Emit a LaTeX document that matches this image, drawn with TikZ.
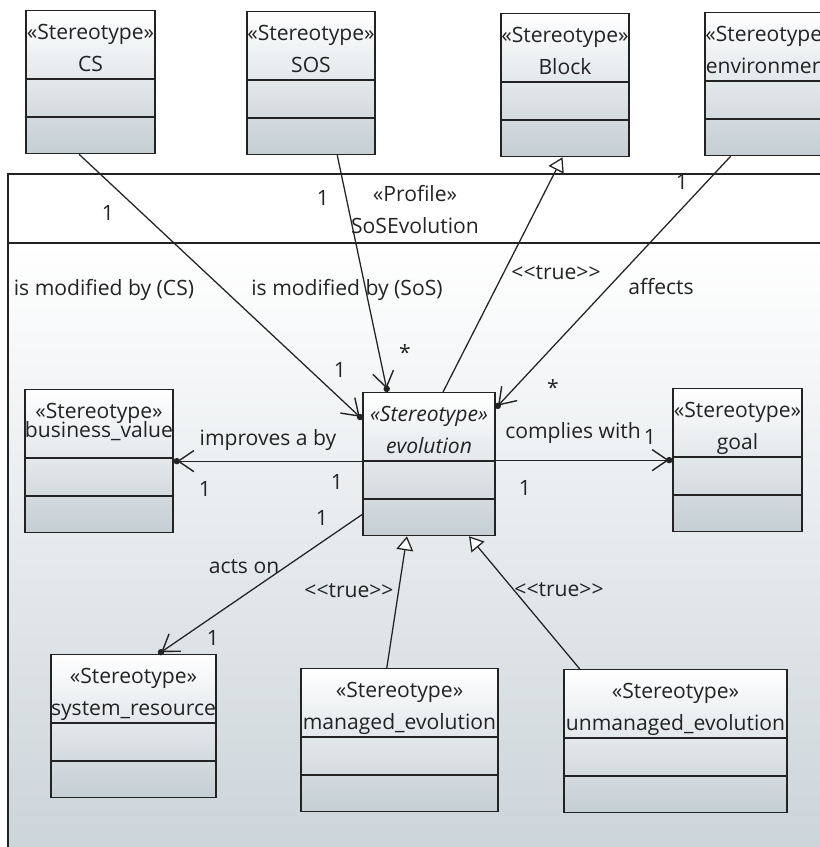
\documentclass[tikz,border=0pt]{standalone}
\usepackage{fontspec}
\setmainfont{Open Sans}
\usetikzlibrary{arrows.meta}
\definecolor{boxgray}{RGB}{196,206,212}
\definecolor{framegray}{RGB}{203,212,217}
\definecolor{ink}{RGB}{35,35,35}
\newcommand\pxl{0.025cm}
% stereotype box: name, centre x, top y, width, title
\newcommand\stbox[5]{%
   \node[stbox, minimum width=#4*\pxl, anchor=north] (#1) at (#2, #3) {};
   \node[sttitle] (#1-t) at ([yshift=-14*\pxl]#1.north) {#5};
   \foreach \s in {69, 107} {
      \draw[boxline] ([yshift=-\s*\pxl]#1.north west) -- ([yshift=-\s*\pxl]#1.north east);
   }
}
\tikzset{
   boxline/.style={draw=ink, line width=0.9pt},
   stbox/.style={boxline, shading=axis, top color=white, bottom color=boxgray,
      minimum height=143*\pxl, inner sep=0pt},
   sttitle/.style={anchor=north, align=center, inner sep=0pt, text=ink},
   lbl/.style={text=ink, inner sep=1pt},
   assoc/.style={draw=ink, line width=0.9pt,
      -{Straight Barb[length=11pt, width=15pt, line width=1pt, sep=-2pt] Circle[length=4.5pt]}},
   gen/.style={draw=ink, line width=0.9pt,
      -{Triangle[length=10pt, width=12pt, fill=white]}},
}
\begin{document}
\begin{tikzpicture}[x=0.025cm, y=-0.025cm, font=\fontsize{15}{22.8}\selectfont]
   \useasboundingbox (0, 0) rectangle (820, 847);
   \clip (0, 0) rectangle (820, 847);
   \fill[white] (0, 0) rectangle (820, 847);
   % profile frame
   \fill[white] (8, 174) rectangle (840, 243);
   \shade[top color=white, bottom color=framegray] (8, 243) rectangle (840, 860);
   \draw[boxline] (8, 860) -- (8, 174) -- (840, 174);
   \draw[boxline] (8, 243) -- (840, 243);
   \node[lbl, align=center] (prof) at (415, 210) {«Profile»\\SoSEvolution};

   \stbox{cs}{90.5}{10}{129}{«Stereotype»\\CS}
   \stbox{sos}{311}{11}{128}{«Stereotype»\\SOS}
   \stbox{blk}{565}{13}{128}{«Stereotype»\\Block}
   \stbox{env}{769}{12}{128}{«Stereotype»\\environment}
   \stbox{evo}{429}{392}{132}{\itshape «Stereotype»\\\itshape evolution}
   \stbox{bv}{99}{389}{148}{«Stereotype»\\[-9pt]business\_value}
   \stbox{goal}{737.5}{388}{129}{«Stereotype»\\goal}
   \stbox{sr}{133.5}{654}{165}{«Stereotype»\\system\_resource}
   \stbox{mev}{399.5}{668}{197}{«Stereotype»\\managed\_evolution}
   \stbox{umev}{675.5}{669}{223}{«Stereotype»\\unmanaged\_evolution}

   \draw[assoc] (cs.261.6) -- (evo.146.3);
   \draw[assoc] (sos.290) -- (evo.120.8);
   \draw[gen] (evo.79) -- (blk.268);
   \draw[assoc] (env.242) -- (evo.40.8);
   \draw[assoc] (evo.west |- bv.east) -- (bv.east);
   \draw[assoc] (evo.east |- goal.west) -- (goal.west);
   \draw[assoc] (evo.217.7) -- (sr.71.8);
   \draw[gen] (mev.100.7) -- (evo.253.7);
   \draw[gen] (umev.143.7) -- (evo.299.7);

   \node[lbl] (cs-m1) at (108, 213) {1};
   \node[lbl] (cs-m2) at (340, 370) {1};
   \node[lbl] (cs-n) at (104, 290) {is modified by (CS)};
   \node[lbl] (sos-m1) at (323, 198) {1};
   \node[lbl] (sos-m2) at (405, 352) {*};
   \node[lbl] (sos-n) at (347, 290) {is modified by (SoS)};
   \node[lbl] (blk-n) at (556, 273) {<{}<true>{}>};
   \node[lbl] (env-m1) at (682, 182) {1};
   \node[lbl] (env-m2) at (553, 387) {*};
   \node[lbl] (env-n) at (661, 287) {affects};
   \node[lbl] (bv-n) at (268, 440) {improves a by};
   \node[lbl] (bv-m1) at (205, 489) {1};
   \node[lbl] (bv-m2) at (337, 482) {1};
   \node[lbl] (goal-n) at (573, 433) {complies with};
   \node[lbl] (goal-m1) at (650, 437) {1};
   \node[lbl] (goal-m2) at (525, 488) {1};
   \node[lbl] (sr-n) at (244, 567) {acts on};
   \node[lbl] (sr-m1) at (322, 518) {1};
   \node[lbl] (sr-m2) at (213, 638) {1};
   \node[lbl] (mev-n) at (349, 591) {<{}<true>{}>};
   \node[lbl] (umev-n) at (559, 590) {<{}<true>{}>};
\end{tikzpicture}
\end{document}
